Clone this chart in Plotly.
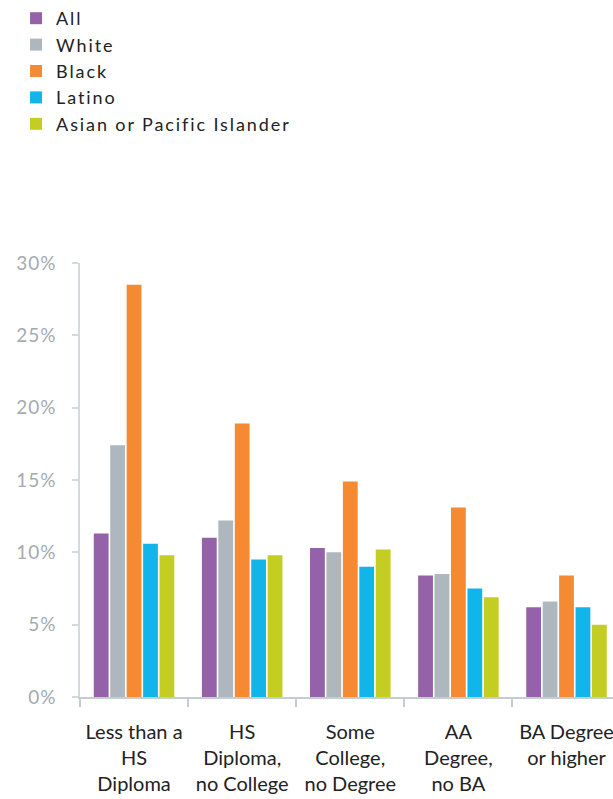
import plotly.graph_objects as go

# Categories of educational attainment (x axis)
categories = [
    "Less than a<br>HS<br>Diploma",
    "HS<br>Diploma,<br>no College",
    "Some<br>College,<br>no Degree",
    "AA<br>Degree,<br>no BA",
    "BA Degree<br>or higher",
]

# Rates by group, in percent
all_vals = [11.3, 11.0, 10.3, 8.4, 6.2]
white_vals = [17.4, 12.2, 10.0, 8.5, 6.6]
black_vals = [28.5, 18.9, 14.9, 13.1, 8.4]
latino_vals = [10.6, 9.5, 9.0, 7.5, 6.2]
asian_vals = [9.8, 9.8, 10.2, 6.9, 5.0]

y_ticks = [0, 5, 10, 15, 20, 25, 30]
y_tick_text = ["0%", "5%", "10%", "15%", "20%", "25%", "30%"]

series_names = ["All", "White", "Black", "Latino", "Asian or Pacific Islander"]
series_values = [all_vals, white_vals, black_vals, latino_vals, asian_vals]
series_colors = ["#9561a8", "#aeb7bd", "#f58a33", "#12b5ea", "#c3cd22"]

FONT = "Lato"


def spaced(text, px):
    """Wrap text in a span with extra letter spacing."""
    return f"<span style='letter-spacing:{px}px'>{text}</span>"


fig = go.Figure()
for name, vals, color in zip(series_names, series_values, series_colors):
    fig.add_trace(go.Bar(
        name=spaced(name, 1.9),
        x=categories,
        y=vals,
        marker=dict(color=color, line=dict(width=0)),
    ))

fig.update_layout(
    width=613,
    height=799,
    margin=dict(l=80, r=0, t=263, b=102),
    paper_bgcolor="white",
    plot_bgcolor="white",
    barmode="group",
    bargap=0.24,
    bargroupgap=0.1,
    font=dict(family=FONT, color="#222222"),
    legend=dict(
        x=-0.12, xanchor="left",
        yref="container", y=1.0, yanchor="top",
        orientation="v",
        font=dict(family=FONT, size=18, color="#222222"),
        bgcolor="rgba(0,0,0,0)",
        traceorder="normal",
        itemwidth=30,
    ),
    xaxis=dict(
        type="category",
        range=[-0.5, 4.43],
        showgrid=False,
        showline=True,
        linecolor="#c5cdd3",
        linewidth=2,
        ticks="outside",
        tickson="boundaries",
        ticklen=8,
        tickwidth=2,
        tickcolor="#c5cdd3",
        ticklabelstandoff=16,
        tickfont=dict(family=FONT, size=20, color="#222222"),
        fixedrange=True,
    ),
    yaxis=dict(
        range=[0, 30],
        tickvals=y_ticks,
        ticktext=[spaced(t, 1) for t in y_tick_text],
        showgrid=False,
        zeroline=False,
        showline=True,
        linecolor="#d3d9dd",
        linewidth=1.5,
        ticks="outside",
        ticklen=6,
        tickwidth=1.5,
        tickcolor="#d3d9dd",
        ticklabelstandoff=12,
        tickfont=dict(family=FONT, size=19, color="#a3abb1"),
        fixedrange=True,
    ),
)

fig.write_html("out.html")
